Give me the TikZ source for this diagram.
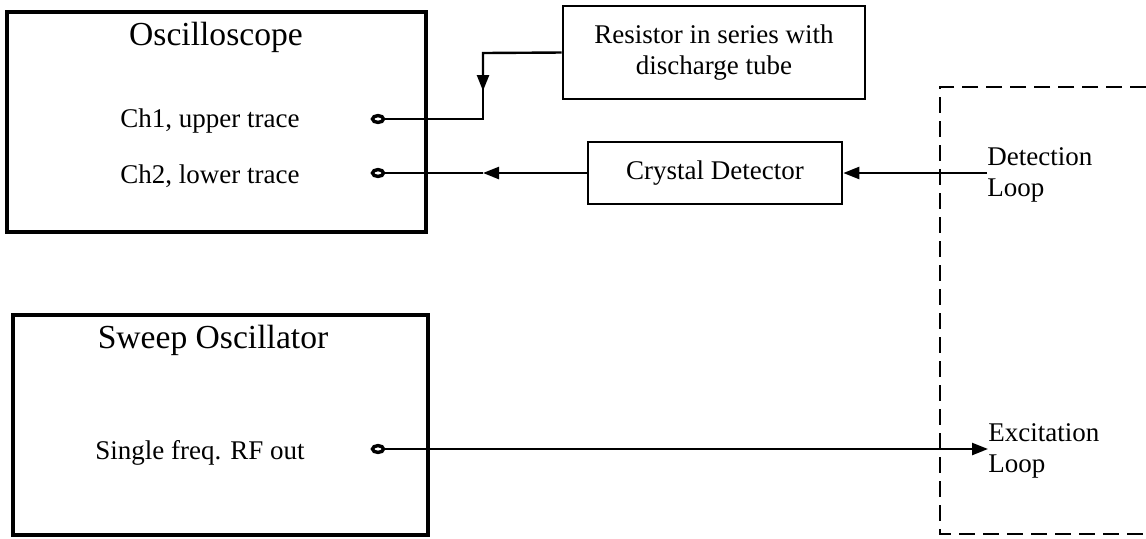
\documentclass[tikz,border=0pt]{standalone}
\usepackage{fontspec}
\setmainfont{Liberation Serif}
\usetikzlibrary{arrows.meta,shapes.geometric}

\begin{document}
\begin{tikzpicture}[x=0.5pt, y=-0.5pt, unit/.style={draw, line width=1.9pt, inner sep=0pt}, blk/.style={draw, line width=1.3pt, align=center, font=\fontsize{13.5}{15.5}\selectfont, inner sep=0pt}, ttl/.style={font=\fontsize{16.8}{20}\selectfont, inner sep=0pt}, lbl/.style={font=\fontsize{13.5}{15.5}\selectfont, align=left, inner sep=0pt}, jack/.style={draw, ellipse, line width=1.7pt, minimum width=5.5pt, minimum height=3.4pt, inner sep=0pt}, arr/.style={-{Triangle[length=8pt,width=6pt]}}, wire/.style={line width=1.2pt}]
\useasboundingbox (0,0) rectangle (1146,538);
\node[unit, minimum width=209.5pt, minimum height=110pt] (osc) at (216.5,122) {};
\node[unit, minimum width=207.5pt, minimum height=110pt] (swp) at (220.5,425) {};
\node[ttl] (osct) at (216,37) {Oscilloscope};
\node[lbl] (ch1t) at (210,121) {Ch1, upper trace};
\node[lbl] (ch2t) at (210,176) {Ch2, lower trace};
\node[ttl] (swpt) at (213,340) {Sweep Oscillator};
\node[lbl] (rft) at (200,453) {Single freq. RF out};
\node[jack] (ch1) at (378,119) {};
\node[jack] (ch2) at (378,173) {};
\node[jack] (rf) at (378,449) {};
\node[blk, minimum width=151pt, minimum height=46.5pt] (res) at (714,52.5) {Resistor in series with\\discharge tube};
\node[blk, minimum width=127pt, minimum height=31pt] (cry) at (715,173) {Crystal Detector};
\node[lbl, anchor=west] (det) at (987,175) {Detection\\Loop};
\node[lbl, anchor=west] (exc) at (988,451) {Excitation\\Loop};
\coordinate (bend) at (483,53); \coordinate (mid) at (483,173);
\draw[wire, arr] (res.west) -- (bend) -- ++(0,38);
\draw[wire] (bend) |- (ch1.east);
\draw[wire, arr] (cry.west) -- (mid); \draw[wire] (mid) -- (ch2.east);
\draw[wire, arr] (det.west |- cry.east) -- (cry.east);
\draw[wire, arr] (rf.east) -- (exc.west |- rf.east);
\draw[dash pattern=on 8pt off 4pt, line width=0.8pt] (1146,87) -- (940,87) -- (940,534) -- (1146,534);
\end{tikzpicture}
\end{document}
